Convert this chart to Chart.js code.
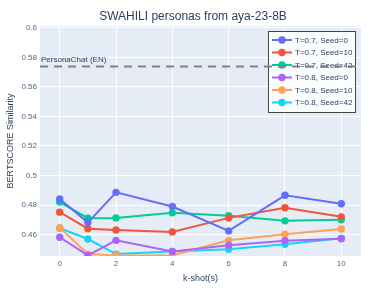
<!DOCTYPE html>
<html lang="en">
<head>
  <meta charset="UTF-8">
  <title>SWAHILI personas from aya-23-8B</title>
  <script src="https://cdn.jsdelivr.net/npm/chart.js@4.4.2/dist/chart.umd.min.js"></script>
  <style>
    html, body { margin: 0; padding: 0; background: #fff; }
    #chart { display: block; }
  </style>
</head>
<body>
  <canvas id="chart" width="387" height="291"></canvas>
  <script>
    // data
    const kShots = [0, 1, 2, 4, 6, 8, 10];
    const seriesLabels = ['T=0.7, Seed=0', 'T=0.7, Seed=10', 'T=0.7, Seed=42', 'T=0.8, Seed=0', 'T=0.8, Seed=10', 'T=0.8, Seed=42'];
    const t07Seed0  = [0.4841, 0.4681, 0.4886, 0.4790, 0.4625, 0.4866, 0.4809];
    const t07Seed10 = [0.4752, 0.4640, 0.4631, 0.4618, 0.4713, 0.4782, 0.4720];
    const t07Seed42 = [0.4820, 0.4711, 0.4713, 0.4747, 0.4727, 0.4693, 0.4700];
    const t08Seed0  = [0.4582, 0.4459, 0.4561, 0.4486, 0.4527, 0.4558, 0.4572];
    const t08Seed10 = [0.4647, 0.4468, 0.4459, 0.4459, 0.4561, 0.4602, 0.4638];
    const t08Seed42 = [0.4643, 0.4570, 0.4468, 0.4486, 0.4500, 0.4534, 0.4575];
    const personaChatEN = 0.5738;
    const xTicks = [0, 2, 4, 6, 8, 10];
    const yTicks = [0.46, 0.48, 0.5, 0.52, 0.54, 0.56, 0.58, 0.6];

    const colors = ['#636efa', '#EF553B', '#00cc96', '#ab63fa', '#FFA15A', '#19d3f3'];
    const allSeries = [t07Seed0, t07Seed10, t07Seed42, t08Seed0, t08Seed10, t08Seed42];
    const FONT = '"Liberation Sans", Arial, sans-serif';

    const datasets = allSeries.map(function(vals, i) {
      return {
        label: seriesLabels[i],
        data: vals.map(function(v, j) { return { x: kShots[j], y: v }; }),
        borderColor: colors[i],
        backgroundColor: colors[i],
        borderWidth: 2,
        pointRadius: 3.7,
        pointHoverRadius: 3.7,
        pointBorderWidth: 0,
        tension: 0,
        clip: 0
      };
    });

    const plotlyLook = {
      id: 'plotlyLook',
      beforeDraw: function(chart) {
        const a = chart.chartArea, c = chart.ctx;
        c.save();
        c.fillStyle = '#E5ECF6';
        c.fillRect(a.left, a.top, a.right - a.left, a.bottom - a.top);
        c.restore();
      },
      afterDraw: function(chart) {
        const a = chart.chartArea, c = chart.ctx;
        const ys = chart.scales.y;
        c.save();
        // title
        c.fillStyle = '#2a3f5f';
        c.font = '12px ' + FONT;
        c.textAlign = 'center';
        c.textBaseline = 'middle';
        c.fillText('SWAHILI personas from aya-23-8B', 193, 17);
        // axis titles
        c.font = '9px ' + FONT;
        c.fillText('k-shot(s)', (a.left + a.right) / 2, 279);
        c.save();
        c.translate(11, (a.top + a.bottom) / 2);
        c.rotate(-Math.PI / 2);
        c.fillText('BERTSCORE Similarity', 0, 0);
        c.restore();

        // legend
        const lx = 268, ly = 31, lw = 87, lh = 81;
        c.fillStyle = 'rgba(255,255,255,0.85)';
        c.fillRect(lx, ly, lw, lh);
        c.strokeStyle = '#444';
        c.lineWidth = 1;
        c.strokeRect(lx + 0.5, ly + 0.5, lw, lh);
        c.font = '8px ' + FONT;
        c.textAlign = 'left';
        chart.data.datasets.forEach(function(ds, i) {
          const yy = 40 + i * 12.5;
          c.strokeStyle = ds.borderColor;
          c.lineWidth = 2;
          c.beginPath();
          c.moveTo(272, yy);
          c.lineTo(292, yy);
          c.stroke();
          c.fillStyle = ds.borderColor;
          c.beginPath();
          c.arc(282, yy, 3.7, 0, Math.PI * 2);
          c.fill();
          c.fillStyle = '#2a3f5f';
          c.fillText(ds.label, 295, yy + 0.5);
        });

        // reference line for PersonaChat (EN)
        const py = ys.getPixelForValue(personaChatEN);
        c.strokeStyle = '#808080';
        c.lineWidth = 2;
        c.setLineDash([8, 6]);
        c.beginPath();
        c.moveTo(a.left, py);
        c.lineTo(a.right, py);
        c.stroke();
        c.setLineDash([]);
        c.fillStyle = '#2a3f5f';
        c.font = '8px ' + FONT;
        c.textAlign = 'left';
        c.textBaseline = 'alphabetic';
        c.fillText('PersonaChat (EN)', a.left + 1, py - 4);
        c.restore();
      }
    };

    new Chart(document.getElementById('chart'), {
      type: 'line',
      data: { datasets: datasets },
      options: {
        responsive: false,
        animation: false,
        events: [],
        layout: { padding: { top: 26, right: 26, bottom: 0, left: 0 } },
        plugins: {
          legend: { display: false },
          title: { display: false },
          tooltip: { enabled: false }
        },
        scales: {
          x: {
            type: 'linear',
            min: -0.7,
            max: 10.7,
            afterBuildTicks: function(s) { s.ticks = xTicks.map(function(v) { return { value: v }; }); },
            afterFit: function(s) { s.height = 35; },
            grid: { color: '#ffffff', lineWidth: 1, drawTicks: false },
            border: { display: false },
            ticks: {
              color: '#506784',
              font: { family: FONT, size: 8 },
              padding: 3,
              maxRotation: 0,
              callback: function(v) { return String(v); }
            }
          },
          y: {
            type: 'linear',
            min: 0.4455,
            max: 0.6012,
            afterBuildTicks: function(s) { s.ticks = yTicks.map(function(v) { return { value: v }; }); },
            afterFit: function(s) { s.width = 40; },
            grid: { color: '#ffffff', lineWidth: 1, drawTicks: false },
            border: { display: false },
            ticks: {
              color: '#506784',
              font: { family: FONT, size: 8 },
              padding: 3,
              callback: function(v) { return String(+v.toFixed(2)); }
            }
          }
        }
      },
      plugins: [plotlyLook]
    });
  </script>
</body>
</html>
